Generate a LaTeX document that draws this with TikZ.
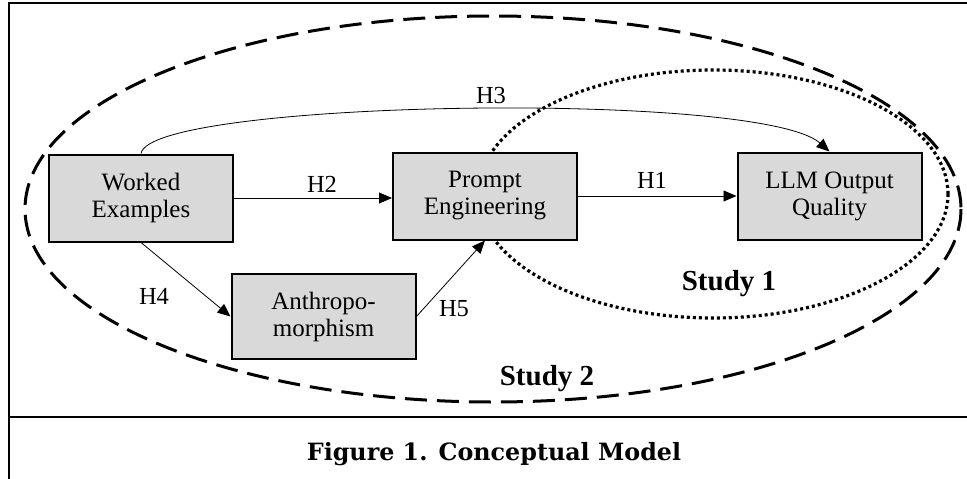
\documentclass[tikz,border=0pt]{standalone}
\usepackage{fontspec}
\setmainfont{Liberation Serif}
\newfontfamily\capfont{DejaVu Serif}
\usetikzlibrary{arrows.meta}
\definecolor{boxgray}{HTML}{D9D9D9}
\begin{document}
\begin{tikzpicture}[x=1pt,y=-1pt,
  varbox/.style={draw=black,line width=2pt,fill=boxgray,minimum width=184pt,minimum height=87pt,align=center,font=\fontsize{25}{27}\selectfont,inner sep=0pt},
  lbl/.style={font=\fontsize{24.5}{27}\selectfont,inner sep=0pt},
  studylbl/.style={font=\fontsize{29}{32}\selectfont\bfseries,inner sep=0pt,anchor=base},
  conn/.style={line width=0.8pt,-{Triangle[length=13pt,width=11pt]}},
  frame/.style={line width=2pt}]
\useasboundingbox (0,0) rectangle (967,479);
% frame
\draw[frame] (9,479) -- (9,3) -- (967,3);
\draw[frame] (9,417) -- (967,417);
% study ellipses
\draw[line width=3pt,dash pattern=on 22pt off 10pt] (493,209) ellipse [x radius=468, y radius=193];
\draw[line width=3.2pt,dash pattern=on 3pt off 3pt] (713,194) ellipse [x radius=235, y radius=124];
% boxes
\node[varbox] (we) at (141,198) {Worked\\Examples};
\node[varbox] (pe) at (485,196) {Prompt\\Engineering};
\node[varbox] (llm) at (829.5,196) {LLM Output\\Quality};
\node[varbox,minimum height=85pt] (an) at (323.5,316.5) {Anthropo-\\morphism};
% connectors
\draw[conn] (we.east |- 0,198) -- (pe.west |- 0,198);
\draw[conn] (pe.east |- 0,196) -- (llm.west |- 0,196);
\draw[conn] (we.north) .. controls (150,100) and (760,90) .. (llm.north);
\draw[conn] (we.south) -- (an.west);
\draw[conn] (an.east) -- (pe.south);
% labels
\node[lbl] (h1) at (652,180) {H1};
\node[lbl] (h2) at (322,184) {H2};
\node[lbl] (h3) at (491,96) {H3};
\node[lbl] (h4) at (154,296) {H4};
\node[lbl] (h5) at (454,309) {H5};
\node[studylbl] (s1) at (729,290) {Study 1};
\node[studylbl] (s2) at (547,385) {Study 2};
% caption
\node[inner sep=0pt,anchor=base] (cap) at (494,460) {\capfont\bfseries\fontsize{23.8}{26}\selectfont Figure 1. Conceptual Model};
\end{tikzpicture}
\end{document}
